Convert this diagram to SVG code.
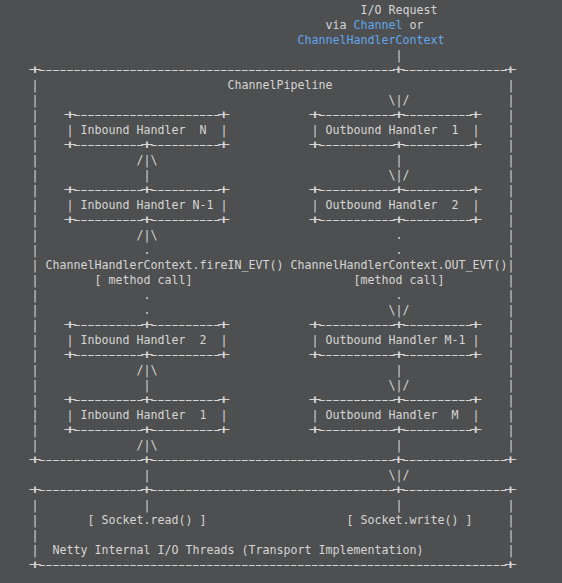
<svg xmlns="http://www.w3.org/2000/svg" width="562" height="583" viewBox="0 0 562 583" xml:space="preserve">
<style>
text { font-family: "DejaVu Sans Mono", "Liberation Mono", monospace; font-size: 11.63px; fill: #d6d6d6; white-space: pre; }
.blue { fill: #62a6ec; }
.d { letter-spacing: -3.218px; }
</style>
<rect x="0" y="0" width="562" height="583" fill="#4e4f50"/>

<g id="io-request">
<text x="360.5" y="14">I/O Request</text>
<text x="325.5" y="29">via <tspan class="blue">Channel</tspan> or</text>
<text x="297.5" y="44" class="blue">ChannelHandlerContext</text>
</g>

<g id="channel-pipeline">
<text class="d" transform="translate(28.525,74) scale(1.85,1)">+---------------------------------------------------+---------------+</text>
<text x="227.5" y="89">ChannelPipeline</text>
<text><tspan x="31.5" y="89">|</tspan><tspan x="31.5" y="104">|</tspan><tspan x="31.5" y="119">|</tspan><tspan x="31.5" y="134">|</tspan><tspan x="31.5" y="149">|</tspan><tspan x="31.5" y="164">|</tspan><tspan x="31.5" y="179">|</tspan><tspan x="31.5" y="194">|</tspan><tspan x="31.5" y="209">|</tspan><tspan x="31.5" y="224">|</tspan><tspan x="31.5" y="239">|</tspan><tspan x="31.5" y="254">|</tspan><tspan x="31.5" y="269">|</tspan><tspan x="31.5" y="284">|</tspan><tspan x="31.5" y="299">|</tspan><tspan x="31.5" y="314">|</tspan><tspan x="31.5" y="329">|</tspan><tspan x="31.5" y="344">|</tspan><tspan x="31.5" y="359">|</tspan><tspan x="31.5" y="374">|</tspan><tspan x="31.5" y="389">|</tspan><tspan x="31.5" y="404">|</tspan><tspan x="31.5" y="419">|</tspan><tspan x="31.5" y="434">|</tspan><tspan x="31.5" y="449">|</tspan></text>
<text><tspan x="507.5" y="89">|</tspan><tspan x="507.5" y="104">|</tspan><tspan x="507.5" y="119">|</tspan><tspan x="507.5" y="134">|</tspan><tspan x="507.5" y="149">|</tspan><tspan x="507.5" y="164">|</tspan><tspan x="507.5" y="179">|</tspan><tspan x="507.5" y="194">|</tspan><tspan x="507.5" y="209">|</tspan><tspan x="507.5" y="224">|</tspan><tspan x="507.5" y="239">|</tspan><tspan x="507.5" y="254">|</tspan><tspan x="507.5" y="269">|</tspan><tspan x="507.5" y="284">|</tspan><tspan x="507.5" y="299">|</tspan><tspan x="507.5" y="314">|</tspan><tspan x="507.5" y="329">|</tspan><tspan x="507.5" y="344">|</tspan><tspan x="507.5" y="359">|</tspan><tspan x="507.5" y="374">|</tspan><tspan x="507.5" y="389">|</tspan><tspan x="507.5" y="404">|</tspan><tspan x="507.5" y="419">|</tspan><tspan x="507.5" y="434">|</tspan><tspan x="507.5" y="449">|</tspan></text>
<text class="d" transform="translate(28.525,464) scale(1.85,1)">+---------------+-----------------------------------+---------------+</text>
</g>

<g id="inbound-handler-n">
<text class="d" transform="translate(63.525,119) scale(1.85,1)">+---------------------+</text>
<text x="66.5" y="134">| Inbound Handler  N  |</text>
<text class="d" transform="translate(63.525,149) scale(1.85,1)">+----------+----------+</text>
</g>
<g id="inbound-handler-n-1">
<text class="d" transform="translate(63.525,194) scale(1.85,1)">+----------+----------+</text>
<text x="66.5" y="209">| Inbound Handler N-1 |</text>
<text class="d" transform="translate(63.525,224) scale(1.85,1)">+----------+----------+</text>
</g>
<g id="inbound-handler-2">
<text class="d" transform="translate(63.525,329) scale(1.85,1)">+----------+----------+</text>
<text x="66.5" y="344">| Inbound Handler  2  |</text>
<text class="d" transform="translate(63.525,359) scale(1.85,1)">+----------+----------+</text>
</g>
<g id="inbound-handler-1">
<text class="d" transform="translate(63.525,404) scale(1.85,1)">+----------+----------+</text>
<text x="66.5" y="419">| Inbound Handler  1  |</text>
<text class="d" transform="translate(63.525,434) scale(1.85,1)">+----------+----------+</text>
</g>

<g id="outbound-handler-1">
<text class="d" transform="translate(308.525,119) scale(1.85,1)">+-----------+----------+</text>
<text x="311.5" y="134">| Outbound Handler  1  |</text>
<text class="d" transform="translate(308.525,149) scale(1.85,1)">+-----------+----------+</text>
</g>
<g id="outbound-handler-2">
<text class="d" transform="translate(308.525,194) scale(1.85,1)">+-----------+----------+</text>
<text x="311.5" y="209">| Outbound Handler  2  |</text>
<text class="d" transform="translate(308.525,224) scale(1.85,1)">+-----------+----------+</text>
</g>
<g id="outbound-handler-m-1">
<text class="d" transform="translate(308.525,329) scale(1.85,1)">+-----------+----------+</text>
<text x="311.5" y="344">| Outbound Handler M-1 |</text>
<text class="d" transform="translate(308.525,359) scale(1.85,1)">+-----------+----------+</text>
</g>
<g id="outbound-handler-m">
<text class="d" transform="translate(308.525,404) scale(1.85,1)">+-----------+----------+</text>
<text x="311.5" y="419">| Outbound Handler  M  |</text>
<text class="d" transform="translate(308.525,434) scale(1.85,1)">+-----------+----------+</text>
</g>

<g id="transport">
<text class="d" transform="translate(28.525,494) scale(1.85,1)">+---------------+-----------------------------------+---------------+</text>
<text><tspan x="31.5" y="509">|</tspan><tspan x="31.5" y="524">|</tspan><tspan x="31.5" y="539">|</tspan><tspan x="31.5" y="554">|</tspan></text>
<text><tspan x="507.5" y="509">|</tspan><tspan x="507.5" y="524">|</tspan><tspan x="507.5" y="539">|</tspan><tspan x="507.5" y="554">|</tspan></text>
<text x="87.5" y="524">[ Socket.read() ]</text>
<text x="346.5" y="524">[ Socket.write() ]</text>
<text x="52.5" y="554">Netty Internal I/O Threads (Transport Implementation)</text>
<text class="d" transform="translate(28.525,569) scale(1.85,1)">+-------------------------------------------------------------------+</text>
</g>

<g id="connectors">
<text x="395.5" y="59">|</text>
<text x="388.5" y="104">\|/</text>
<text x="136.5" y="164">/|\</text>
<text x="395.5" y="164">|</text>
<text x="143.5" y="179">|</text>
<text x="388.5" y="179">\|/</text>
<text x="136.5" y="239">/|\</text>
<text x="395.5" y="239">.</text>
<text x="143.5" y="254">.</text>
<text x="395.5" y="254">.</text>
<text x="45.5" y="269">ChannelHandlerContext.fireIN_EVT()</text>
<text x="290.5" y="269">ChannelHandlerContext.OUT_EVT()</text>
<text x="94.5" y="284">[ method call]</text>
<text x="353.5" y="284">[method call]</text>
<text x="143.5" y="299">.</text>
<text x="395.5" y="299">.</text>
<text x="143.5" y="314">.</text>
<text x="388.5" y="314">\|/</text>
<text x="136.5" y="374">/|\</text>
<text x="395.5" y="374">|</text>
<text x="143.5" y="389">|</text>
<text x="388.5" y="389">\|/</text>
<text x="136.5" y="449">/|\</text>
<text x="395.5" y="449">|</text>
<text x="143.5" y="479">|</text>
<text x="388.5" y="479">\|/</text>
<text x="143.5" y="509">|</text>
<text x="395.5" y="509">|</text>
</g>
</svg>
